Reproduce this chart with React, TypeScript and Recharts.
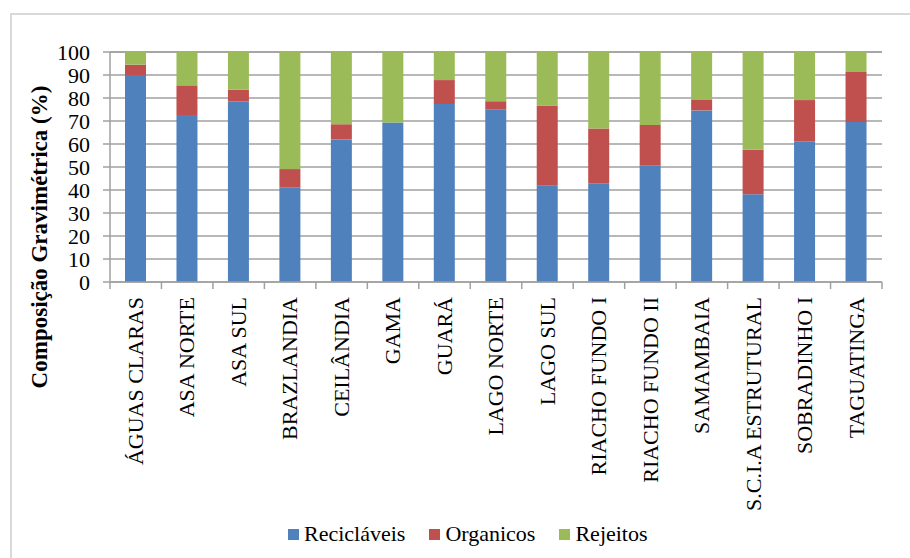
import React from 'react';
import { BarChart, Bar, XAxis, YAxis, CartesianGrid, Legend } from 'recharts';

// Regiões administrativas e composição gravimétrica (%) de cada uma
const regioes = [
  'ÁGUAS CLARAS', 'ASA NORTE', 'ASA SUL', 'BRAZLANDIA', 'CEILÂNDIA', 'GAMA', 'GUARÁ',
  'LAGO NORTE', 'LAGO SUL', 'RIACHO FUNDO I', 'RIACHO FUNDO II', 'SAMAMBAIA',
  'S.C.I.A ESTRUTURAL', 'SOBRADINHO I', 'TAGUATINGA',
];
const reciclaveis = [90.0, 72.2, 78.4, 41.0, 61.9, 69.3, 77.4, 74.9, 41.9, 42.9, 50.6, 74.6, 38.1, 61.0, 69.6];
const organicos = [4.5, 13.3, 5.2, 8.1, 6.7, 0, 10.4, 3.7, 34.8, 23.8, 17.7, 4.8, 19.4, 18.1, 21.7];
const rejeitos = [5.5, 14.5, 16.4, 50.9, 31.4, 30.7, 12.2, 21.4, 23.3, 33.3, 31.7, 20.6, 42.5, 20.9, 8.7];
const yTicks = [0, 10, 20, 30, 40, 50, 60, 70, 80, 90, 100];

const series = [
  { key: 'reciclaveis', name: 'Recicláveis', color: '#4f81bd' },
  { key: 'organicos', name: 'Organicos', color: '#c0504d' },
  { key: 'rejeitos', name: 'Rejeitos', color: '#9bbb59' },
];

const data = regioes.map((regiao, i) => ({
  regiao,
  reciclaveis: reciclaveis[i],
  organicos: organicos[i],
  rejeitos: rejeitos[i],
}));

const FONT = 'Liberation Serif';
const GRID = '#a0a0a0';

// rotated category label, with tick marks on the band edges instead of the centre
const CategoryTick = (props: any) => {
  const { x, y, payload, index } = props;
  const half = payload.offset || 0;
  return (
    <g>
      {index === 0 && <line x1={x - half} y1={y} x2={x - half} y2={y + 7} stroke={GRID} strokeWidth={1.5} />}
      <line x1={x + half} y1={y} x2={x + half} y2={y + 7} stroke={GRID} strokeWidth={1.5} />
      <text
        x={x}
        y={y + 15}
        transform={`rotate(-90 ${x} ${y + 15})`}
        textAnchor="end"
        dy="0.33em"
        fontSize={22}
        fontFamily={FONT}
        fill="#000"
      >
        {payload.value}
      </text>
    </g>
  );
};

const LegendBox = () => (
  <div style={{ display: 'flex', alignItems: 'center', fontFamily: FONT, fontSize: 22, color: '#000' }}>
    {series.map((s) => (
      <div key={s.key} style={{ display: 'flex', alignItems: 'center', marginRight: 24 }}>
        <span style={{ width: 11, height: 11, background: s.color, display: 'inline-block', marginRight: 5 }} />
        <span>{s.name}</span>
      </div>
    ))}
  </div>
);

export default function App() {
  return (
    <div
      style={{
        position: 'absolute',
        left: 0,
        top: 0,
        width: 910,
        height: 558,
        background: '#fff',
        overflow: 'hidden',
        fontFamily: FONT,
      }}
    >
      <div
        style={{
          position: 'absolute',
          left: 10,
          top: 13,
          width: 960,
          height: 600,
          borderTop: '2px solid #d9d9d9',
          borderLeft: '2px solid #d9d9d9',
        }}
      />
      <BarChart
        width={910}
        height={558}
        data={data}
        margin={{ top: 52, right: 28, left: 0, bottom: 10 }}
        barSize={21}
        style={{ position: 'absolute', left: 0, top: 0, fontFamily: FONT }}
      >
        <CartesianGrid vertical={false} stroke={GRID} strokeWidth={1.5} />
        <XAxis
          dataKey="regiao"
          interval={0}
          height={226}
          axisLine={{ stroke: GRID, strokeWidth: 1.5 }}
          tickLine={false}
          tickSize={0}
          tickMargin={0}
          tick={(p: any) => <CategoryTick {...p} />}
        />
        <YAxis
          width={110}
          domain={[0, 100]}
          ticks={yTicks}
          interval={0}
          axisLine={{ stroke: GRID, strokeWidth: 1.5 }}
          tickLine={{ stroke: GRID, strokeWidth: 1.5 }}
          tickSize={7}
          tickMargin={13}
          tick={{ fontSize: 22, fontFamily: FONT, fill: '#000' }}
          label={{
            content: () => (
              <text
                transform="translate(47 237) rotate(-90)"
                textAnchor="middle"
                fontSize={23}
                fontWeight="bold"
                fontFamily={FONT}
                fill="#000"
              >
                Composição Gravimétrica (%)
              </text>
            ),
          }}
        />
        <Legend
          content={() => <LegendBox />}
          wrapperStyle={{ top: 521, left: 288, width: 'auto', height: 40 }}
        />
        {series.map((s) => (
          <Bar key={s.key} dataKey={s.key} name={s.name} stackId="a" fill={s.color} isAnimationActive={false} />
        ))}
      </BarChart>
    </div>
  );
}
